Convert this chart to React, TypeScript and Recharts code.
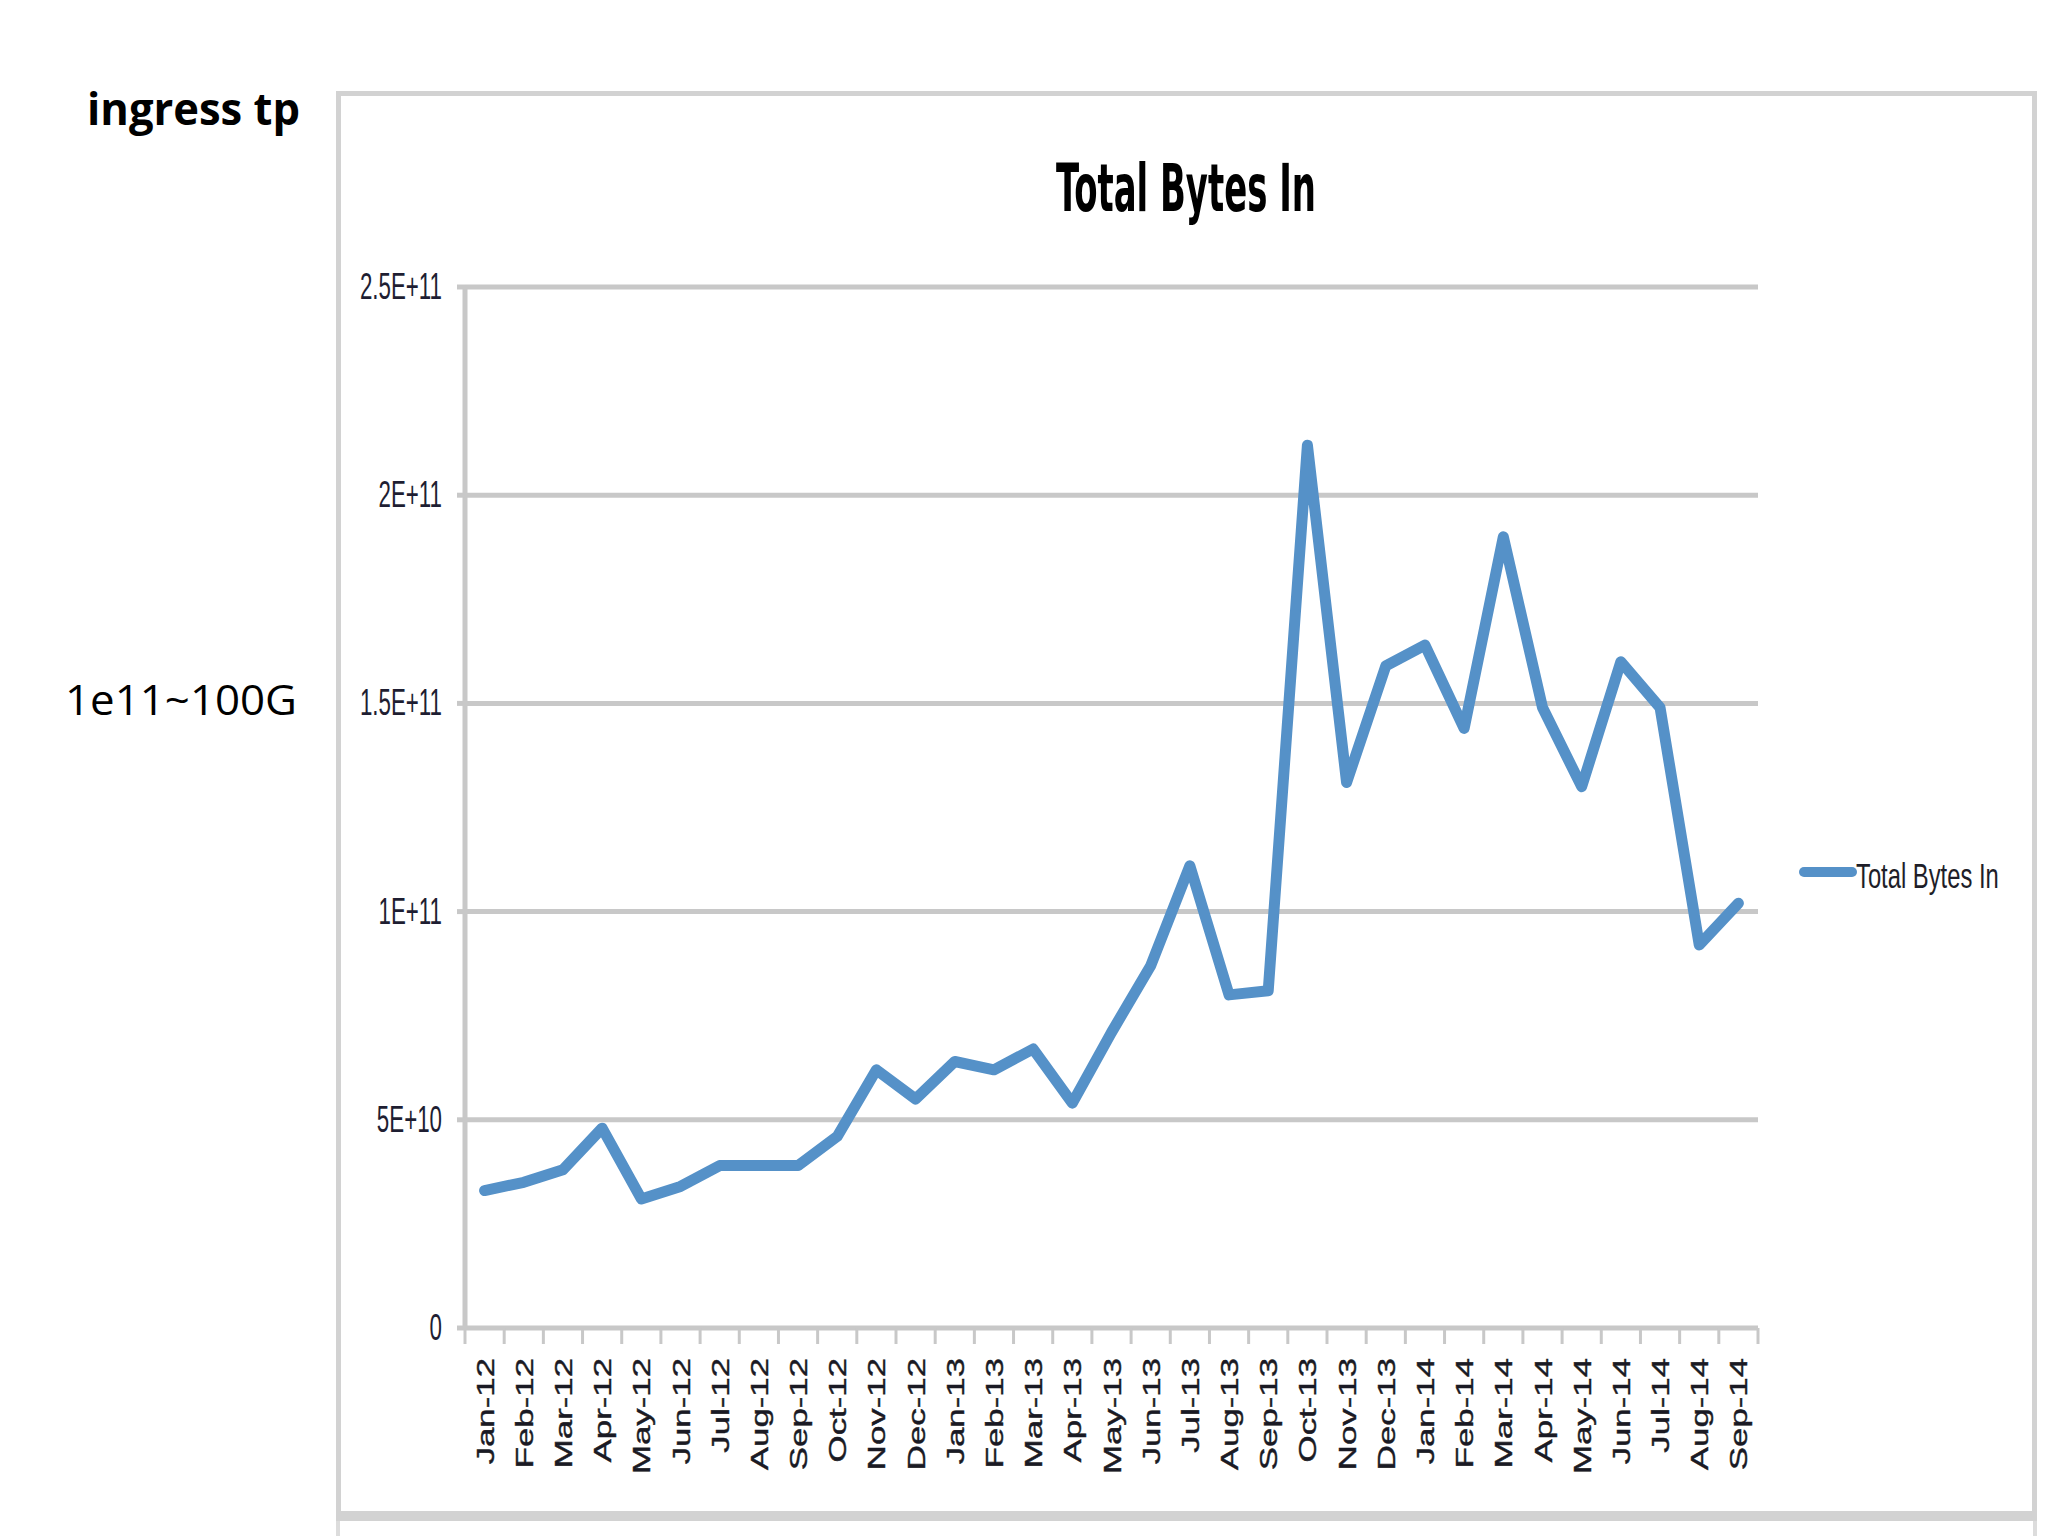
import React from 'react';
import { LineChart, Line, XAxis, YAxis, CartesianGrid, Legend } from 'recharts';

// ---- data ----
const months = [
  'Jan-12', 'Feb-12', 'Mar-12', 'Apr-12', 'May-12', 'Jun-12', 'Jul-12', 'Aug-12', 'Sep-12', 'Oct-12', 'Nov-12', 'Dec-12',
  'Jan-13', 'Feb-13', 'Mar-13', 'Apr-13', 'May-13', 'Jun-13', 'Jul-13', 'Aug-13', 'Sep-13', 'Oct-13', 'Nov-13', 'Dec-13',
  'Jan-14', 'Feb-14', 'Mar-14', 'Apr-14', 'May-14', 'Jun-14', 'Jul-14', 'Aug-14', 'Sep-14',
];
const totalBytesIn = [
  3.3e10, 3.5e10, 3.8e10, 4.8e10, 3.1e10, 3.4e10, 3.9e10, 3.9e10, 3.9e10, 4.6e10, 6.2e10, 5.5e10,
  6.4e10, 6.2e10, 6.7e10, 5.4e10, 7.1e10, 8.7e10, 11.1e10, 8.0e10, 8.1e10, 21.2e10, 13.1e10, 15.9e10,
  16.4e10, 14.4e10, 19.0e10, 14.9e10, 13.0e10, 16.0e10, 14.9e10, 9.2e10, 10.2e10,
];
const yTicks = [0, 5e10, 1e11, 1.5e11, 2e11, 2.5e11];
const yTickLabels = ['0', '5E+10', '1E+11', '1.5E+11', '2E+11', '2.5E+11'];
const seriesName = 'Total Bytes In';
const chartTitle = 'Total Bytes In';
const sideTitle = 'ingress tp';
const sideNote = '1e11~100G';

const data = months.map((m, i) => ({ month: m, value: totalBytesIn[i] }));

// ---- layout ----
const W = 2048;
const H = 1536;
const PLOT_LEFT = 465;
const PLOT_RIGHT = 1758;
const PLOT_TOP = 287;
const PLOT_BOTTOM = 1328;
const Y_AXIS_W = 60;
const X_AXIS_H = 30;
const GRID = '#c8c8c8';
const BLUE = '#5591c8';
const NARROW = "'Liberation Sans Narrow', 'DejaVu Sans Condensed', 'Liberation Sans', sans-serif";

const XTick = (props: any) => {
  const { x, payload, index } = props;
  const bw = (PLOT_RIGHT - PLOT_LEFT) / months.length;
  const last = index === months.length - 1;
  return (
    <g>
      <line x1={x - bw / 2} x2={x - bw / 2} y1={PLOT_BOTTOM} y2={PLOT_BOTTOM + 16} stroke={GRID} strokeWidth={3} />
      {last && (
        <line x1={x + bw / 2} x2={x + bw / 2} y1={PLOT_BOTTOM} y2={PLOT_BOTTOM + 16} stroke={GRID} strokeWidth={3} />
      )}
      <text
        transform={`translate(${x + 9},${PLOT_BOTTOM + 30}) rotate(-90) scale(1.45,1)`}
        textAnchor="end"
        fontSize={24}
        fontFamily="'Liberation Sans', Arial, sans-serif"
        fill="#1a1a24"
        stroke="#1a1a24"
        strokeWidth={0.4}
      >
        {payload.value}
      </text>
    </g>
  );
};

const YTick = (props: any) => {
  const { y, payload } = props;
  const idx = yTicks.indexOf(payload.value);
  return (
    <text
      transform={`translate(${PLOT_LEFT - 23},${y + 12}) scale(0.62,1)`}
      textAnchor="end"
      fontSize={36}
      fontFamily="'Liberation Sans', Arial, sans-serif"
      fill="#1e1e32"
    >
      {idx >= 0 ? yTickLabels[idx] : String(payload.value)}
    </text>
  );
};

const LegendContent = () => (
  <svg width={250} height={56}>
    <line x1={14} x2={62} y1={25} y2={25} stroke={BLUE} strokeWidth={10} strokeLinecap="round" />
    <text
      transform="translate(66,41) scale(0.68,1)"
      fontSize={35}
      fontFamily="'Liberation Sans', Arial, sans-serif"
      fill="#1e1e28"
    >
      {seriesName}
    </text>
  </svg>
);

export default function App() {
  return (
    <div style={{ position: 'absolute', left: 0, top: 0, width: W, height: H, background: '#fff', overflow: 'hidden' }}>
      {/* chart frame */}
      <div
        style={{
          position: 'absolute',
          left: 336,
          top: 91,
          width: 2037 - 336,
          height: 1521 - 91,
          boxSizing: 'border-box',
          border: '5px solid #d2d2d2',
          borderBottomWidth: 10,
        }}
      />
      <div
        style={{
          position: 'absolute',
          left: 336,
          top: 1521,
          width: 2037 - 336,
          height: 20,
          boxSizing: 'border-box',
          borderLeft: '4px solid #dcdcdc',
          borderRight: '4px solid #dcdcdc',
        }}
      />
      <svg style={{ position: 'absolute', left: 0, top: 0 }} width={W} height={H}>
        <text x={87} y={125} fontSize={44} fontWeight={700} fontFamily="'Open Sans', sans-serif" fill="#000" textLength={213} lengthAdjust="spacingAndGlyphs">
          {sideTitle}
        </text>
        <text x={65} y={715} fontSize={42} fontFamily="'Open Sans', sans-serif" fill="#000" textLength={232} lengthAdjust="spacingAndGlyphs">
          {sideNote}
        </text>
        <text x={1056} y={211} fontSize={66} fontWeight={700} fontFamily={NARROW} fill="#000" textLength={260} lengthAdjust="spacingAndGlyphs">
          {chartTitle}
        </text>
      </svg>
      <div style={{ position: 'absolute', left: 0, top: 0 }}>
        <LineChart
          width={W}
          height={H}
          data={data}
          margin={{ top: PLOT_TOP, right: W - PLOT_RIGHT, bottom: H - PLOT_BOTTOM - X_AXIS_H, left: PLOT_LEFT - Y_AXIS_W }}
        >
          <CartesianGrid vertical={false} stroke={GRID} strokeWidth={5} />
          <XAxis
            dataKey="month"
            scale="band"
            interval={0}
            height={X_AXIS_H}
            axisLine={{ stroke: GRID, strokeWidth: 4 }}
            tickLine={false}
            tick={<XTick />}
          />
          <YAxis
            width={Y_AXIS_W}
            domain={[0, 2.5e11]}
            ticks={yTicks}
            interval={0}
            axisLine={{ stroke: GRID, strokeWidth: 5 }}
            tickLine={{ stroke: GRID, strokeWidth: 5 }}
            tickSize={8}
            tick={<YTick />}
          />
          <Legend
            layout="horizontal"
            verticalAlign="middle"
            align="center"
            wrapperStyle={{ left: 1790, top: 847, width: 250, height: 56 }}
            content={<LegendContent />}
          />
          <Line
            type="linear"
            dataKey="value"
            name={seriesName}
            stroke={BLUE}
            strokeWidth={11}
            strokeLinejoin="round"
            strokeLinecap="round"
            dot={false}
            activeDot={false}
            isAnimationActive={false}
          />
        </LineChart>
      </div>
    </div>
  );
}
